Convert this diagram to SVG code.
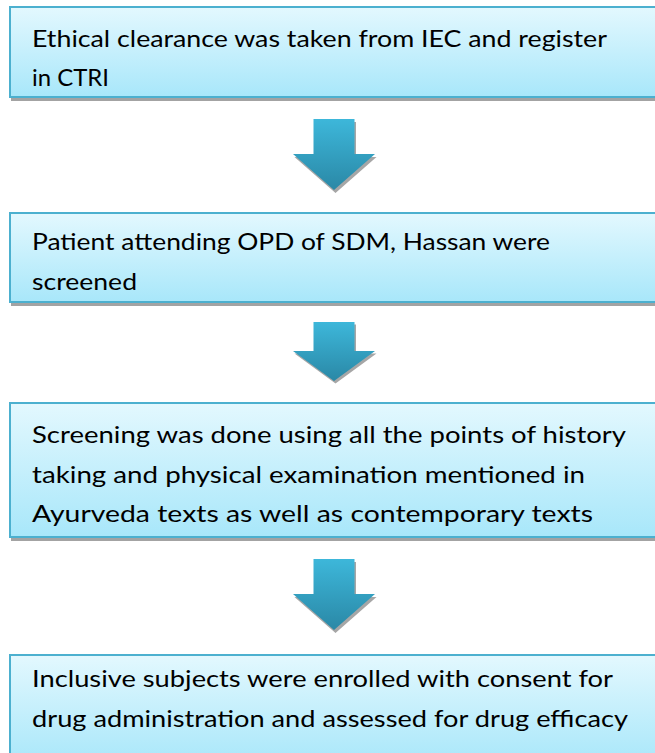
<svg xmlns="http://www.w3.org/2000/svg" width="655" height="753" viewBox="0 0 655 753">
<defs>
<linearGradient id="boxFill" x1="0" y1="0" x2="0" y2="1">
<stop offset="0" stop-color="#e3f8fe"/>
<stop offset="1" stop-color="#a8e7fa"/>
</linearGradient>
<linearGradient id="arrowFill" x1="0" y1="0" x2="0" y2="1">
<stop offset="0" stop-color="#3db7da"/>
<stop offset="1" stop-color="#2a88a6"/>
</linearGradient>
<polygon id="arrowShape" points="-20.5,0 20.5,0 20.5,35 41,35 0,71 -41,35 -20.5,35"/>
</defs>
<style>
.box { fill: url(#boxFill); stroke: #4cb0cf; stroke-width: 2; }
.shadow { fill: #a3a3a3; }
.txt { font-family: Lato, "Liberation Sans", Arial, sans-serif; font-size: 23.5px; fill: #000; }
.arrow { fill: url(#arrowFill); }
.ashadow { fill: #a6a6a6; }
</style>
<g id="connectors">
<g id="arrow1" transform="translate(334,119)">
<use href="#arrowShape" class="ashadow" transform="translate(1.5,3)"/>
<use href="#arrowShape" class="arrow"/>
</g>
<g id="arrow2" transform="translate(334,322) scale(1,0.83)">
<use href="#arrowShape" class="ashadow" transform="translate(1.5,3)"/>
<use href="#arrowShape" class="arrow"/>
</g>
<g id="arrow3" transform="translate(334,559)">
<use href="#arrowShape" class="ashadow" transform="translate(1.5,3)"/>
<use href="#arrowShape" class="arrow"/>
</g>
</g>
<g id="node1">
<rect class="shadow" x="11" y="97" width="660" height="4"/>
<rect class="box" x="10" y="7" width="660" height="90"/>
<text class="txt" x="32" y="47" textLength="575" lengthAdjust="spacingAndGlyphs">Ethical clearance was taken from IEC and register</text>
<text class="txt" x="32" y="86" textLength="77" lengthAdjust="spacingAndGlyphs">in CTRI</text>
</g>
<g id="node2">
<rect class="shadow" x="11" y="302" width="660" height="4"/>
<rect class="box" x="10" y="213" width="660" height="89"/>
<text class="txt" x="32" y="250" textLength="518" lengthAdjust="spacingAndGlyphs">Patient attending OPD of SDM, Hassan were</text>
<text class="txt" x="32" y="290" textLength="105" lengthAdjust="spacingAndGlyphs">screened</text>
</g>
<g id="node3">
<rect class="shadow" x="11" y="537" width="660" height="4"/>
<rect class="box" x="10" y="403" width="660" height="134"/>
<text class="txt" x="32" y="443" textLength="594" lengthAdjust="spacingAndGlyphs">Screening was done using all the points of history</text>
<text class="txt" x="32" y="483" textLength="553" lengthAdjust="spacingAndGlyphs">taking and physical examination mentioned in</text>
<text class="txt" x="32" y="522" textLength="561" lengthAdjust="spacingAndGlyphs">Ayurveda texts as well as contemporary texts</text>
</g>
<g id="node4">
<rect class="box" x="10" y="655" width="660" height="110"/>
<text class="txt" x="32" y="687" textLength="581" lengthAdjust="spacingAndGlyphs">Inclusive subjects were enrolled with consent for</text>
<text class="txt" x="32" y="727" textLength="596" lengthAdjust="spacingAndGlyphs">drug administration and assessed for drug efficacy</text>
</g>
</svg>
